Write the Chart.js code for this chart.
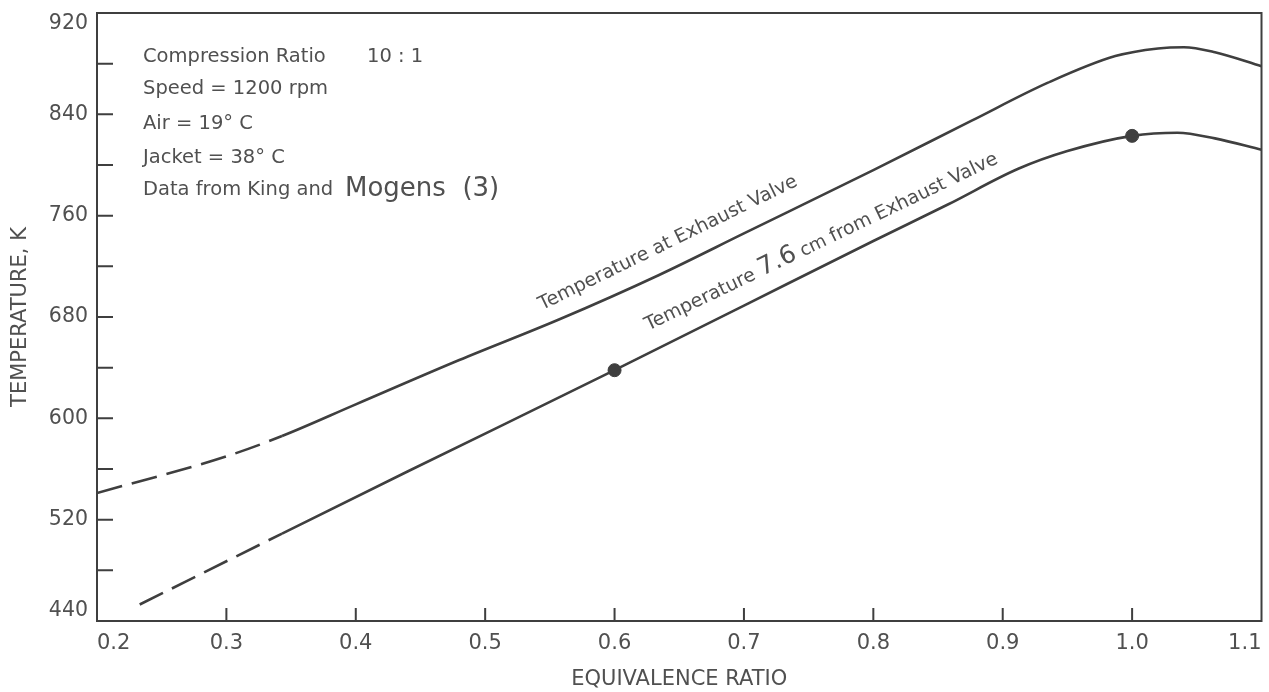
<!DOCTYPE html>
<html>
<head>
<meta charset="utf-8">
<script src="https://cdn.jsdelivr.net/npm/chart.js@4"></script>
<style>
  html, body { margin: 0; padding: 0; background: #fff; }
  #wrap { width: 1269px; height: 692px; }
</style>
</head>
<body>
<div id="wrap"><canvas id="tempChart"></canvas></div>
<script>
    // values
    const upperRatio = [0.2, 0.3, 0.343, 0.4, 0.48, 0.557, 0.634, 0.7, 0.8, 0.876, 0.935, 0.987, 1.02, 1.04, 1.064, 1.1];
    const upperTemp  = [541, 570, 586, 611, 646, 678, 713, 746, 796, 835, 865, 886, 892, 893, 889, 878];
    const lowerRatio = [0.233, 0.343, 0.44, 0.6, 0.7, 0.8, 0.858, 0.912, 0.95, 1.0, 1.035, 1.064, 1.1];
    const lowerTemp  = [453, 509, 558, 638, 689, 740, 769, 797, 811, 823, 825.5, 821, 812];
    const markerRatio = [0.6, 1.0];
    const markerTemp  = [638, 823];
    const dashedUntil = 0.343;   // both curves are dashed left of this ratio
    const tempMin = 440, tempMax = 920;

    const infoLines = ['Compression Ratio', 'Speed = 1200 rpm', 'Air = 19\u00b0 C', 'Jacket = 38\u00b0 C', 'Data from King and'];

    const ink = '#3f3f3f';
    const textInk = '#505050';
    const fontFam = "'DejaVu Sans', sans-serif";

    const toPoints = (xs, ys) => xs.map((x, i) => ({ x: x, y: ys[i] }));
    const dashSeg = { borderDash: c => (c.p1.parsed.x <= dashedUntil + 1e-9 ? [26, 10] : undefined) };

    // y labels: every 80, the end ones pushed inside the frame
    function yLabel(v) {
        if ((v - tempMin) % 80 !== 0) return '';
        if (v === tempMax) return ['', String(v)];
        if (v === tempMin) return [String(v), ''];
        return v;
    }

    // frame + inward tick marks
    const framePlugin = {
        id: 'frame',
        afterDraw(chart) {
            const { ctx, chartArea: a, scales } = chart;
            ctx.save();
            ctx.strokeStyle = ink;
            ctx.lineWidth = 2;
            ctx.strokeRect(a.left, a.top, a.right - a.left, a.bottom - a.top);
            ctx.beginPath();
            scales.y.ticks.forEach(t => {
                const py = scales.y.getPixelForValue(t.value);
                if (t.value > scales.y.min && t.value < scales.y.max) {
                    ctx.moveTo(a.left, py);
                    ctx.lineTo(a.left + 16, py);
                }
            });
            scales.x.ticks.forEach(t => {
                const px = scales.x.getPixelForValue(t.value);
                if (t.value > scales.x.min + 1e-6 && t.value < scales.x.max - 1e-6) {
                    ctx.moveTo(px, a.bottom);
                    ctx.lineTo(px, a.bottom - 13);
                }
            });
            ctx.stroke();
            ctx.restore();
        }
    };

    // draws a run of [text, size] pieces along a rotated baseline
    function runText(ctx, x, y, angle, parts) {
        ctx.save();
        ctx.translate(x, y);
        ctx.rotate(angle);
        ctx.textBaseline = 'alphabetic';
        ctx.textAlign = 'left';
        let off = 0;
        parts.forEach(p => {
            ctx.font = p[1] + 'px ' + fontFam;
            ctx.fillText(p[0], off, 0);
            off += ctx.measureText(p[0]).width;
        });
        ctx.restore();
    }

    const notesPlugin = {
        id: 'notes',
        afterDraw(chart) {
            const { ctx, chartArea: a, scales } = chart;
            ctx.save();
            ctx.fillStyle = textInk;
            ctx.textBaseline = 'middle';
            ctx.font = '19.5px ' + fontFam;
            const rows = [57, 89, 124, 158, 190];
            infoLines.forEach((s, i) => ctx.fillText(s, a.left + 46, rows[i]));
            ctx.fillText('10 : 1', a.left + 270, rows[0]);
            ctx.font = '26px ' + fontFam;
            ctx.fillText('Mogens  (3)', a.left + 248, rows[4] - 1);

            // curve labels, anchored to the curves
            const x1 = scales.x.getPixelForValue(0.544);
            const y1 = scales.y.getPixelForValue(672) - 17;
            runText(ctx, x1, y1, -26 * Math.PI / 180, [['Temperature at Exhaust Valve', 19]]);

            const x2 = scales.x.getPixelForValue(0.626);
            const y2 = scales.y.getPixelForValue(651) - 23;
            runText(ctx, x2, y2, -25.6 * Math.PI / 180,
                [['Temperature ', 19], ['7.6', 25], [' cm ', 18], ['from Exhaust Valve', 19]]);
            ctx.restore();
        }
    };

    const ctx = document.getElementById('tempChart').getContext('2d');
    const tempChart = new Chart(ctx, {
        type: 'line',
        data: {
            datasets: [{
                label: 'Temperature at Exhaust Valve',
                data: toPoints(upperRatio, upperTemp),
                borderColor: ink,
                borderWidth: 2.6,
                pointRadius: 0,
                fill: false,
                cubicInterpolationMode: 'monotone',
                segment: dashSeg
            }, {
                label: 'Temperature 7.6 cm from Exhaust Valve',
                data: toPoints(lowerRatio, lowerTemp),
                borderColor: ink,
                borderWidth: 2.6,
                pointRadius: 0,
                fill: false,
                cubicInterpolationMode: 'monotone',
                segment: dashSeg
            }, {
                label: 'Measured',
                data: toPoints(markerRatio, markerTemp),
                showLine: false,
                pointRadius: 6.5,
                pointBackgroundColor: ink,
                pointBorderColor: ink
            }]
        },
        options: {
            responsive: true,
            maintainAspectRatio: false,
            animation: false,
            layout: { padding: { top: 13, right: 7, left: 0, bottom: 0 } },
            plugins: {
                legend: { display: false },
                tooltip: { enabled: false }
            },
            scales: {
                x: {
                    type: 'linear',
                    min: 0.2,
                    max: 1.1,
                    grid: { display: false, drawTicks: false },
                    border: { display: false },
                    ticks: {
                        stepSize: 0.1,
                        autoSkip: false,
                        maxRotation: 0,
                        align: 'inner',
                        padding: 10,
                        color: textInk,
                        font: { family: fontFam, size: 21 },
                        callback: v => v.toFixed(1)
                    },
                    title: {
                        display: true,
                        text: 'EQUIVALENCE RATIO',
                        color: textInk,
                        font: { family: fontFam, size: 21 },
                        padding: { top: 6, bottom: 0 }
                    },
                    afterFit: s => { s.height = 71; s.paddingLeft = 0; s.paddingRight = 0; }
                },
                y: {
                    min: tempMin,
                    max: tempMax,
                    grid: { display: false, drawTicks: false },
                    border: { display: false },
                    ticks: {
                        stepSize: 40,
                        padding: 9,
                        color: textInk,
                        font: { family: fontFam, size: 20.5, lineHeight: 1.0 },
                        callback: yLabel
                    },
                    title: {
                        display: true,
                        text: 'TEMPERATURE, K',
                        color: textInk,
                        font: { family: fontFam, size: 21 },
                        padding: { top: 8, bottom: 0 }
                    },
                    afterFit: s => { s.width = 97; s.paddingTop = 0; s.paddingBottom = 0; }
                }
            }
        },
        plugins: [framePlugin, notesPlugin]
    });
</script>
</body>
</html>
